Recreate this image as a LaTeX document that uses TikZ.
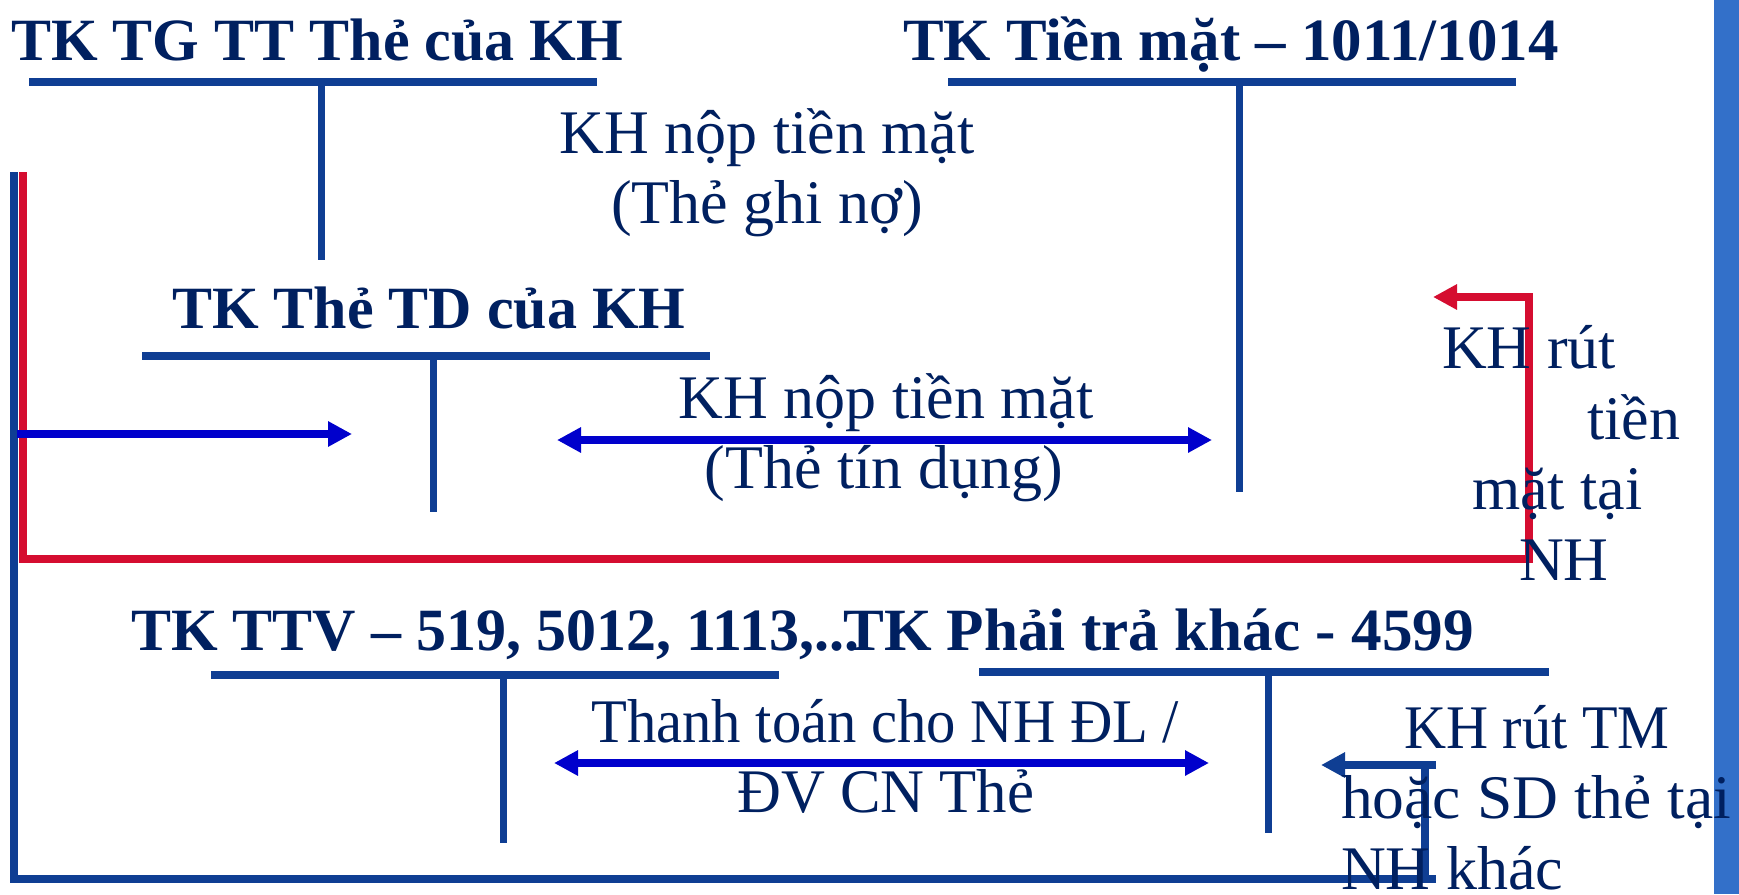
\documentclass[tikz,border=0pt]{standalone}
\usepackage{fontspec}
\usepackage{graphicx}
\setmainfont{Liberation Serif}
\usetikzlibrary{arrows.meta}
\definecolor{navytext}{HTML}{002060}
\definecolor{tblue}{HTML}{0F3E93}
\definecolor{arrblue}{HTML}{0000CC}
\definecolor{redline}{HTML}{D50D30}
\definecolor{sidebar}{HTML}{3370C9}
\tikzset{
  tbar/.style={draw=tblue,line width=8pt},
  tstem/.style={draw=tblue,line width=7pt},
  ttitle/.style={text=navytext,font=\fontsize{60}{70}\selectfont\bfseries,inner sep=0pt,anchor=base west},
  bodytxt/.style={text=navytext,font=\fontsize{62}{70}\selectfont,inner sep=0pt,anchor=base west},
  bodyc/.style={text=navytext,font=\fontsize{62}{70}\selectfont,inner sep=0pt,anchor=base},
  tipT/.tip={Triangle[length=24pt,width=24pt]},
  bluearr/.style={draw=arrblue,line width=8pt},
  redpath/.style={draw=redline,line width=8pt},
  framepath/.style={draw=tblue,line width=8pt}
}
\begin{document}
\begin{tikzpicture}[x=1pt,y=-1pt]
\useasboundingbox (0,0) rectangle (1739,894);
\fill[white] (0,0) rectangle (1739,894);
\fill[sidebar] (1714,0) rectangle (1739,894);

% T-account coordinates
\coordinate (b1l) at (29,82);  \coordinate (b1r) at (597,82);
\coordinate (s1t) at (321,86); \coordinate (s1b) at (321,260);
\coordinate (b2l) at (142,356); \coordinate (b2r) at (710,356);
\coordinate (s2t) at (433,360); \coordinate (s2b) at (433,512);
\coordinate (b3l) at (948,82); \coordinate (b3r) at (1516,82);
\coordinate (s3t) at (1239,86); \coordinate (s3b) at (1239,492);
\coordinate (b4l) at (211,675); \coordinate (b4r) at (779,675);
\coordinate (s4t) at (503,679); \coordinate (s4b) at (503,843);
\coordinate (b5l) at (979,672); \coordinate (b5r) at (1549,672);
\coordinate (s5t) at (1268,676); \coordinate (s5b) at (1268,833);

\draw[tbar] (b1l) -- (b1r); \draw[tstem] (s1t) -- (s1b);
\draw[tbar] (b2l) -- (b2r); \draw[tstem] (s2t) -- (s2b);
\draw[tbar] (b3l) -- (b3r); \draw[tstem] (s3t) -- (s3b);
\draw[tbar] (b4l) -- (b4r); \draw[tstem] (s4t) -- (s4b);
\draw[tbar] (b5l) -- (b5r); \draw[tstem] (s5t) -- (s5b);

% blue frame
\coordinate (f1) at (14,172); \coordinate (f2) at (14,879); \coordinate (f3) at (1436,879);
\coordinate (f4) at (1425,883); \coordinate (f5) at (1425,761);
\coordinate (f6) at (1436,765); \coordinate (f7) at (1321,765);
\draw[framepath] (f1) -- (f2) -- (f3);
\draw[framepath] (f4) -- (f5);
\draw[framepath,-{tipT}] (f6) -- (f7);

% red path
\coordinate (r1) at (23,172); \coordinate (r2) at (23,559); \coordinate (r3) at (1529,559);
\coordinate (r4) at (1529,297); \coordinate (r5) at (1433,297);
\draw[redpath,-{tipT}] (r1) -- (r2) -- (r3) -- (r4) -- (r5);

% blue arrows
\coordinate (a1s) at (17,434); \coordinate (a1e) at (352,434);
\draw[bluearr,-{tipT}] (a1s) -- (a1e);
\coordinate (a2s) at (557,440); \coordinate (a2e) at (1212,440);
\draw[bluearr,{tipT}-{tipT}] (a2s) -- (a2e);
\coordinate (a3s) at (554,763); \coordinate (a3e) at (1209,763);
\draw[bluearr,{tipT}-{tipT}] (a3s) -- (a3e);

% titles
\node[ttitle] (t1) at (11,60) {TK TG TT Thẻ của KH};
\node[ttitle] (t2) at (903,60) {\scalebox{1.015}[1]{TK Tiền mặt – 1011/1014}};
\node[ttitle] (t3) at (172,328) {TK Thẻ TD của KH};
\node[ttitle] (t4) at (131,650) {TK TTV – 519, 5012, 1113,...};
\node[ttitle] (t5) at (843,650) {\scalebox{1.02}[1]{TK Phải trả khác - 4599}};

% body texts
\node[bodyc] (g1) at (767,153) {KH nộp tiền mặt};
\node[bodyc] (g2) at (767,223) {(Thẻ ghi nợ)};
\node[bodyc] (d1) at (886,418) {KH nộp tiền mặt};
\node[bodyc] (d2) at (884,488) {(Thẻ tín dụng)};
\node[bodytxt] (w1) at (1442,368) {KH rút};
\node[bodytxt] (w2) at (1587,439) {tiền};
\node[bodytxt] (w3) at (1472,509) {mặt tại};
\node[bodytxt] (w4) at (1519,580) {NH};
\node[bodytxt] (p1) at (591,742) {\scalebox{0.946}[1]{Thanh toán cho NH ĐL /}};
\node[bodytxt] (p2) at (737,812) {\scalebox{0.98}[1]{ĐV CN Thẻ}};
\node[bodytxt] (k1) at (1404,748) {\scalebox{0.94}[1]{KH rút TM}};
\node[bodytxt] (k2) at (1341,818) {\scalebox{1.025}[1]{hoặc SD thẻ tại}};
\node[bodytxt] (k3) at (1341,889) {NH khác};
\end{tikzpicture}
\end{document}
